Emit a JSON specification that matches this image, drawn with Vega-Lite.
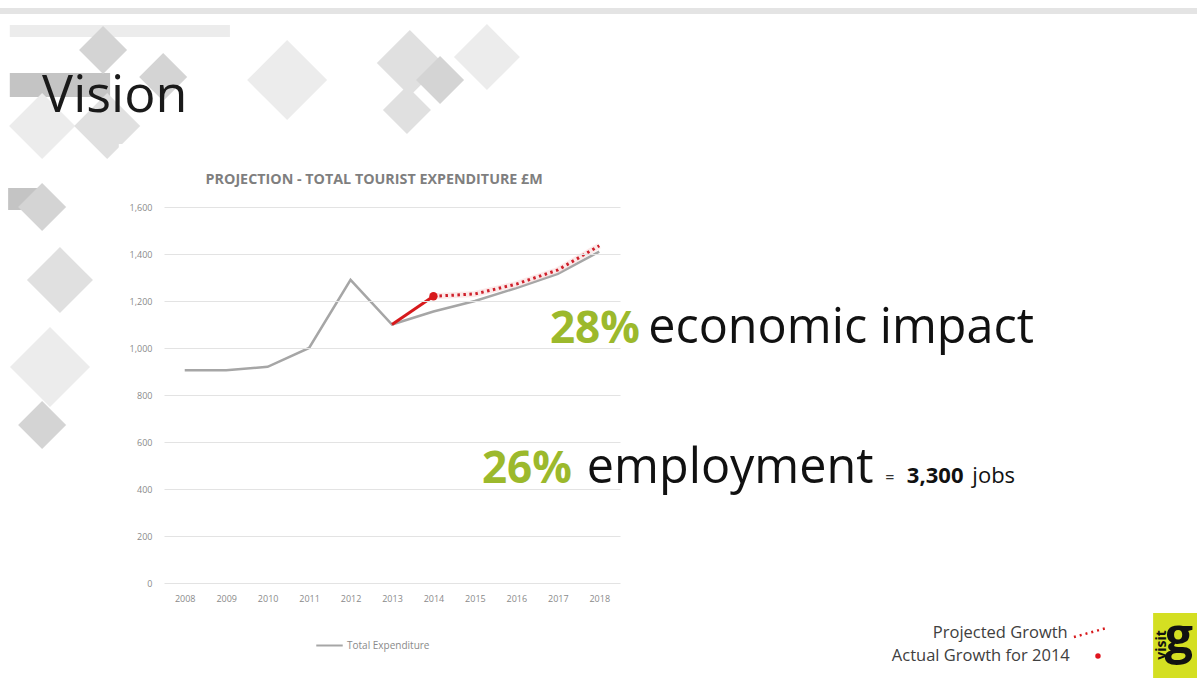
{
  "$schema": "https://vega.github.io/schema/vega-lite/v6.json",
  "width": 456,
  "height": 376,
  "autosize": {"type": "none"},
  "padding": {"left": 164, "top": 207, "right": 577, "bottom": 99},
  "background": "white",
  "config": {
    "font": "Open Sans",
    "view": {"stroke": null},
    "axisY": {"grid": true, "gridColor": "#e3e3e3", "gridWidth": 1, "domain": false, "ticks": false, "labelFontSize": 9, "labelColor": "#8a8a8a", "labelPadding": 12},
    "axisX": {"grid": false, "domain": false, "ticks": false, "labelFontSize": 9, "labelColor": "#8a8a8a", "labelPadding": 11}
  },
  "datasets": {
    "expenditure": [
      {"year": 2008, "series": "Total Expenditure", "value": 905},
      {"year": 2009, "series": "Total Expenditure", "value": 905},
      {"year": 2010, "series": "Total Expenditure", "value": 920},
      {"year": 2011, "series": "Total Expenditure", "value": 1000},
      {"year": 2012, "series": "Total Expenditure", "value": 1290},
      {"year": 2013, "series": "Total Expenditure", "value": 1100},
      {"year": 2014, "series": "Total Expenditure", "value": 1155},
      {"year": 2015, "series": "Total Expenditure", "value": 1200},
      {"year": 2016, "series": "Total Expenditure", "value": 1255},
      {"year": 2017, "series": "Total Expenditure", "value": 1315},
      {"year": 2018, "series": "Total Expenditure", "value": 1410},
      {"year": 2013, "series": "Actual Growth", "value": 1100},
      {"year": 2014, "series": "Actual Growth", "value": 1220},
      {"year": 2014, "series": "Projected Growth", "value": 1220},
      {"year": 2015, "series": "Projected Growth", "value": 1230},
      {"year": 2016, "series": "Projected Growth", "value": 1272},
      {"year": 2017, "series": "Projected Growth", "value": 1332},
      {"year": 2018, "series": "Projected Growth", "value": 1435}
    ],
    "labels": [
      {"text": "Vision", "x": 2004.56, "y": 2004, "role": "slidetitle"},
      {"text": "PROJECTION - TOTAL TOURIST EXPENDITURE £M", "x": 2012.57, "y": 1715, "role": "charttitle"},
      {"text": "28%", "x": 2018.98, "y": 1021, "role": "green"},
      {"text": "economic impact", "x": 2019.18, "y": 1021, "role": "black"},
      {"text": "26%", "x": 2017.34, "y": 425, "role": "green"},
      {"text": "employment", "x": 2017.7, "y": 425, "role": "black"},
      {"text": "=", "x": 2024.9, "y": 425, "role": "eq"},
      {"text": "3,300", "x": 2025.42, "y": 425, "role": "num"},
      {"text": "jobs", "x": 2027.0, "y": 425, "role": "jobs"},
      {"text": "Projected Growth", "x": 2029.3, "y": -213, "role": "key"},
      {"text": "Actual Growth for 2014", "x": 2029.35, "y": -311, "role": "key"},
      {"text": "visit", "x": 2031.57, "y": -264, "role": "visit"},
      {"text": "g", "x": 2031.98, "y": -236, "role": "g"}
    ],
    "keys": [
      {"x": 2029.45, "y": -230, "key": "Projected Growth"},
      {"x": 2030.25, "y": -191, "key": "Projected Growth"},
      {"x": 2030.03, "y": -311, "key": "Actual Growth for 2014"}
    ],
    "boxes": [
      {"x": 2003.54, "x2": 2032.5, "y": 2447, "y2": 2421, "tone": "bar"},
      {"x": 2003.78, "x2": 2006.2, "y": 2170, "y2": 2068, "tone": "band"},
      {"x": 2003.78, "x2": 2009.09, "y": 2374, "y2": 2323, "tone": "light"},
      {"x": 2003.74, "x2": 2004.63, "y": 1681, "y2": 1587, "tone": "band"},
      {"x": 2006.41, "x2": 2018.98, "y": 1868, "y2": -413, "tone": "chartbox"},
      {"x": 2031.36, "x2": 2032.5, "y": -128, "y2": -404, "tone": "logo"}
    ],
    "diamonds": [
      {"x": 2006.03, "y": 2268, "scale": "small", "tone": "dark"},
      {"x": 2007.48, "y": 2153, "scale": "small", "tone": "dark"},
      {"x": 2010.47, "y": 2140, "scale": "big", "tone": "light"},
      {"x": 2013.43, "y": 2213, "scale": "mid", "tone": "mid"},
      {"x": 2015.29, "y": 2238, "scale": "mid", "tone": "light"},
      {"x": 2013.36, "y": 2013, "scale": "small", "tone": "mid"},
      {"x": 2014.16, "y": 2140, "scale": "small", "tone": "dark"},
      {"x": 2004.99, "y": 1289, "scale": "mid", "tone": "mid"},
      {"x": 2004.75, "y": 919, "scale": "big", "tone": "light"},
      {"x": 2004.56, "y": 672, "scale": "small", "tone": "dark"},
      {"x": 2004.56, "y": 1600, "scale": "small", "tone": "dark"},
      {"x": 2004.56, "y": 1945, "scale": "mid", "tone": "light"},
      {"x": 2006.13, "y": 1945, "scale": "mid", "tone": "mid"}
    ]
  },
  "layer": [
    {
      "data": {"name": "boxes"},
      "transform": [{"filter": "datum.tone !== 'chartbox' && datum.tone !== 'logo'"}],
      "mark": {"type": "rect", "clip": false},
      "encoding": {
        "x": {"field": "x", "type": "quantitative", "title": null, "scale": {"domain": [2007.5, 2018.5], "nice": false, "zero": false}, "axis": {"values": [2008, 2009, 2010, 2011, 2012, 2013, 2014, 2015, 2016, 2017, 2018], "format": "d", "zindex": 1}},
        "x2": {"field": "x2"},
        "y": {"field": "y", "type": "quantitative", "title": null, "scale": {"domain": [0, 1600], "nice": false}, "axis": {"values": [0, 200, 400, 600, 800, 1000, 1200, 1400, 1600], "format": ",d", "zindex": 1}},
        "y2": {"field": "y2"},
        "fill": {"field": "tone", "type": "nominal", "legend": null, "scale": {"domain": ["light", "mid", "dark", "bar", "band", "chartbox", "logo"], "range": ["#ececec", "#e0e0e0", "#d4d4d4", "#e4e4e4", "#c4c4c4", "#ffffff", "#d4df22"]}}
      }
    },
    {
      "data": {"name": "diamonds"},
      "mark": {"type": "point", "shape": "diamond", "filled": true, "opacity": 1, "clip": false, "strokeWidth": 0},
      "encoding": {
        "x": {"field": "x", "type": "quantitative", "title": null},
        "y": {"field": "y", "type": "quantitative", "title": null},
        "size": {"field": "scale", "type": "nominal", "legend": null, "scale": {"domain": ["small", "mid", "big"], "range": [2304, 6400, 15376]}},
        "fill": {"field": "tone", "type": "nominal", "legend": null}
      }
    },
    {
      "data": {"name": "boxes"},
      "transform": [{"filter": "datum.tone === 'chartbox' || datum.tone === 'logo'"}],
      "mark": {"type": "rect", "clip": false},
      "encoding": {
        "x": {"field": "x", "type": "quantitative", "title": null},
        "x2": {"field": "x2"},
        "y": {"field": "y", "type": "quantitative", "title": null},
        "y2": {"field": "y2"},
        "fill": {"field": "tone", "type": "nominal", "legend": null}
      }
    },
    {
      "data": {"name": "expenditure"},
      "transform": [{"filter": "datum.series === 'Total Expenditure'"}],
      "mark": {"type": "line", "strokeWidth": 2.5, "clip": false},
      "encoding": {
        "x": {"field": "year", "type": "quantitative", "title": null},
        "y": {"field": "value", "type": "quantitative", "title": null},
        "color": {"field": "series", "type": "nominal", "title": null, "scale": {"domain": ["Total Expenditure"], "range": ["#a6a6a6"]},
          "legend": {"orient": "none", "legendX": 151, "legendY": 424, "symbolType": "stroke", "symbolSize": 700, "symbolStrokeWidth": 2, "labelFontSize": 10, "labelColor": "#8a8a8a", "padding": 0, "labelOffset": 3}}
      }
    },
    {
      "data": {"name": "expenditure"},
      "transform": [{"filter": "datum.series === 'Projected Growth'"}],
      "mark": {"type": "line", "strokeWidth": 6, "color": "#f8d4d4", "opacity": 0.5, "clip": false},
      "encoding": {
        "x": {"field": "year", "type": "quantitative", "title": null},
        "y": {"field": "value", "type": "quantitative", "title": null}
      }
    },
    {
      "data": {"name": "expenditure"},
      "transform": [{"filter": "datum.series === 'Projected Growth'"}],
      "mark": {"type": "line", "strokeWidth": 3, "color": "#cf1f2a", "strokeDash": [2.5, 3.5], "clip": false},
      "encoding": {
        "x": {"field": "year", "type": "quantitative", "title": null},
        "y": {"field": "value", "type": "quantitative", "title": null}
      }
    },
    {
      "data": {"name": "expenditure"},
      "transform": [{"filter": "datum.series === 'Actual Growth'"}],
      "mark": {"type": "line", "strokeWidth": 3, "color": "#d7191c", "clip": false},
      "encoding": {
        "x": {"field": "year", "type": "quantitative", "title": null},
        "y": {"field": "value", "type": "quantitative", "title": null}
      }
    },
    {
      "data": {"name": "expenditure"},
      "transform": [{"filter": "datum.series === 'Actual Growth' && datum.year === 2014"}],
      "mark": {"type": "point", "filled": true, "size": 70, "color": "#d7191c", "opacity": 1, "clip": false},
      "encoding": {
        "x": {"field": "year", "type": "quantitative", "title": null},
        "y": {"field": "value", "type": "quantitative", "title": null}
      }
    },
    {
      "data": {"name": "keys"},
      "transform": [{"filter": "datum.key === 'Projected Growth'"}],
      "mark": {"type": "line", "strokeWidth": 2.5, "color": "#d7191c", "strokeDash": [2, 4], "clip": false},
      "encoding": {
        "x": {"field": "x", "type": "quantitative", "title": null},
        "y": {"field": "y", "type": "quantitative", "title": null}
      }
    },
    {
      "data": {"name": "keys"},
      "transform": [{"filter": "datum.key === 'Actual Growth for 2014'"}],
      "mark": {"type": "point", "filled": true, "size": 30, "color": "#e0141e", "opacity": 1, "clip": false},
      "encoding": {
        "x": {"field": "x", "type": "quantitative", "title": null},
        "y": {"field": "y", "type": "quantitative", "title": null}
      }
    },
    {
      "data": {"name": "labels"},
      "transform": [{"filter": "datum.role === 'slidetitle'"}],
      "mark": {"type": "text", "fontSize": 52, "color": "#1a1a1a", "align": "left", "baseline": "alphabetic", "clip": false},
      "encoding": {
        "x": {"field": "x", "type": "quantitative", "title": null},
        "y": {"field": "y", "type": "quantitative", "title": null},
        "text": {"field": "text"}
      }
    },
    {
      "data": {"name": "labels"},
      "transform": [{"filter": "datum.role === 'charttitle'"}],
      "mark": {"type": "text", "fontSize": 14.3, "fontWeight": "bold", "color": "#7f7f7f", "align": "center", "baseline": "middle", "clip": false},
      "encoding": {
        "x": {"field": "x", "type": "quantitative", "title": null},
        "y": {"field": "y", "type": "quantitative", "title": null},
        "text": {"field": "text"}
      }
    },
    {
      "data": {"name": "labels"},
      "transform": [{"filter": "datum.role === 'green'"}],
      "mark": {"type": "text", "fontSize": 44, "fontWeight": "bold", "color": "#9cb92c", "align": "right", "baseline": "alphabetic", "clip": false},
      "encoding": {
        "x": {"field": "x", "type": "quantitative", "title": null},
        "y": {"field": "y", "type": "quantitative", "title": null},
        "text": {"field": "text"}
      }
    },
    {
      "data": {"name": "labels"},
      "transform": [{"filter": "datum.role === 'black'"}],
      "mark": {"type": "text", "fontSize": 48.5, "color": "#111111", "align": "left", "baseline": "alphabetic", "clip": false},
      "encoding": {
        "x": {"field": "x", "type": "quantitative", "title": null},
        "y": {"field": "y", "type": "quantitative", "title": null},
        "text": {"field": "text"}
      }
    },
    {
      "data": {"name": "labels"},
      "transform": [{"filter": "datum.role === 'eq'"}],
      "mark": {"type": "text", "fontSize": 16, "color": "#333333", "align": "left", "baseline": "alphabetic", "clip": false},
      "encoding": {
        "x": {"field": "x", "type": "quantitative", "title": null},
        "y": {"field": "y", "type": "quantitative", "title": null},
        "text": {"field": "text"}
      }
    },
    {
      "data": {"name": "labels"},
      "transform": [{"filter": "datum.role === 'num'"}],
      "mark": {"type": "text", "fontSize": 22, "fontWeight": "bold", "color": "#111111", "align": "left", "baseline": "alphabetic", "clip": false},
      "encoding": {
        "x": {"field": "x", "type": "quantitative", "title": null},
        "y": {"field": "y", "type": "quantitative", "title": null},
        "text": {"field": "text"}
      }
    },
    {
      "data": {"name": "labels"},
      "transform": [{"filter": "datum.role === 'jobs'"}],
      "mark": {"type": "text", "fontSize": 22, "color": "#111111", "align": "left", "baseline": "alphabetic", "clip": false},
      "encoding": {
        "x": {"field": "x", "type": "quantitative", "title": null},
        "y": {"field": "y", "type": "quantitative", "title": null},
        "text": {"field": "text"}
      }
    },
    {
      "data": {"name": "labels"},
      "transform": [{"filter": "datum.role === 'key'"}],
      "mark": {"type": "text", "fontSize": 16.5, "color": "#404040", "align": "right", "baseline": "middle", "clip": false},
      "encoding": {
        "x": {"field": "x", "type": "quantitative", "title": null},
        "y": {"field": "y", "type": "quantitative", "title": null},
        "text": {"field": "text"}
      }
    },
    {
      "data": {"name": "labels"},
      "transform": [{"filter": "datum.role === 'visit'"}],
      "mark": {"type": "text", "fontSize": 14, "fontWeight": "bold", "color": "#111111", "align": "center", "baseline": "middle", "angle": 270, "clip": false},
      "encoding": {
        "x": {"field": "x", "type": "quantitative", "title": null},
        "y": {"field": "y", "type": "quantitative", "title": null},
        "text": {"field": "text"}
      }
    },
    {
      "data": {"name": "labels"},
      "transform": [{"filter": "datum.role === 'g'"}],
      "mark": {"type": "text", "fontSize": 50, "fontWeight": "bold", "color": "#111111", "align": "center", "baseline": "middle", "clip": false},
      "encoding": {
        "x": {"field": "x", "type": "quantitative", "title": null},
        "y": {"field": "y", "type": "quantitative", "title": null},
        "text": {"field": "text"}
      }
    }
  ]
}
